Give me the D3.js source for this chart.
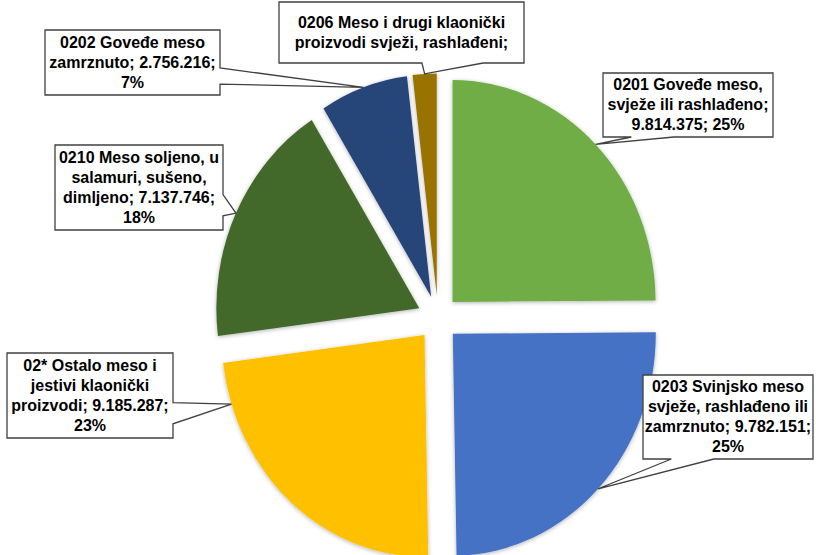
<!DOCTYPE html>
<html>
<head>
<meta charset="utf-8">
<script src="https://cdn.jsdelivr.net/npm/d3@7"></script>
<style>
  html, body { margin: 0; padding: 0; background: #fff; }
  svg { display: block; }
</style>
</head>
<body>
<div id="chart"></div>
<script>
// pie data, clockwise from 12 o'clock
const codes = ["0201", "0203", "02*", "0210", "0202", "0206"];
const names = [
  "Goveđe meso, svježe ili rashlađeno",
  "Svinjsko meso svježe, rashlađeno ili zamrznuto",
  "Ostalo meso i jestivi klaonički proizvodi",
  "Meso soljeno, u salamuri, sušeno, dimljeno",
  "Goveđe meso zamrznuto",
  "Meso i drugi klaonički proizvodi svježi, rashlađeni"
];
const values = [9814375, 9782151, 9185287, 7137746, 2756216, 750000]; // last one is hidden in the label, estimated
const colors = ["#70AD47", "#4472C4", "#FFC000", "#43682B", "#264478", "#997300"];

// callout boxes (x, y, w, h) and where along the slice arc the wedge points
const boxes = [
  [603, 73, 170, 64],
  [643, 375, 170, 84],
  [7, 353, 166, 85],
  [55, 145, 168, 85],
  [45, 30, 175, 65],
  [279, 2, 245, 61]
];
const tipAt = [0.5, 0.5, 0.87, 0.5, 0.5, 0.5];

const width = 816, height = 555;
const cx = 438, cy = 318;
const radius = 222;
const sx = 203 / 222;       // picture is a bit squeezed horizontally
const explode = 22.6;
const lineH = 20;

const locale = d3.formatLocale({decimal: ",", thousands: ".", grouping: [3], currency: ["", ""]});
const fmt = locale.format(",d");

const svg = d3.select("#chart").append("svg")
    .attr("width", width)
    .attr("height", height)
    .style("font-family", "'Liberation Sans', Arial, sans-serif");

svg.append("defs").append("filter")
    .attr("id", "shadow")
    .attr("x", "-20%").attr("y", "-20%")
    .attr("width", "140%").attr("height", "140%")
  .append("feDropShadow")
    .attr("dx", 0).attr("dy", 1)
    .attr("stdDeviation", 2.2)
    .attr("flood-color", "#000")
    .attr("flood-opacity", 0.3);

const total = d3.sum(values);
const data = codes.map((c, i) => ({code: c, name: names[i], value: values[i], color: colors[i], box: boxes[i], tip: tipAt[i]}));

const pie = d3.pie().sort(null).value(d => d.value);
const arc = d3.arc().innerRadius(0).outerRadius(radius);
const arcs = pie(data);

const g = svg.append("g")
    .attr("transform", `translate(${cx},${cy}) scale(${sx},1)`);

g.selectAll("path")
  .data(arcs)
  .join("path")
    .attr("transform", d => {
      const mid = (d.startAngle + d.endAngle) / 2;
      return `translate(${Math.sin(mid) * explode},${-Math.cos(mid) * explode})`;
    })
    .attr("d", arc)
    .attr("fill", d => d.data.color)
    .attr("filter", "url(#shadow)");

// point on the exploded arc, in screen coordinates
function arcPoint(d, t) {
  const mid = (d.startAngle + d.endAngle) / 2;
  const a = d.startAngle + (d.endAngle - d.startAngle) * t;
  return [
    cx + sx * (Math.sin(mid) * explode + Math.sin(a) * radius),
    cy + (-Math.cos(mid) * explode - Math.cos(a) * radius)
  ];
}

// rectangle callout with a wedge, like the Office "wedgeRectCallout" shape
function callout(l, t, w, h, px, py) {
  const r = l + w, b = t + h;
  const dxPos = px - (l + w / 2), dyPos = py - (t + h / 2);
  const horiz = Math.abs(dxPos) * h > Math.abs(dyPos) * w;
  const x1 = l + w * (dxPos > 0 ? 7 : 2) / 12, x2 = l + w * (dxPos > 0 ? 10 : 5) / 12;
  const y1 = t + h * (dyPos > 0 ? 7 : 2) / 12, y2 = t + h * (dyPos > 0 ? 10 : 5) / 12;
  const p = d3.path();
  p.moveTo(l, t);
  if (!horiz && dyPos < 0) { p.lineTo(x1, t); p.lineTo(px, py); p.lineTo(x2, t); }
  p.lineTo(r, t);
  if (horiz && dxPos > 0) { p.lineTo(r, y1); p.lineTo(px, py); p.lineTo(r, y2); }
  p.lineTo(r, b);
  if (!horiz && dyPos > 0) { p.lineTo(x2, b); p.lineTo(px, py); p.lineTo(x1, b); }
  p.lineTo(l, b);
  if (horiz && dxPos < 0) { p.lineTo(l, y2); p.lineTo(px, py); p.lineTo(l, y1); }
  p.closePath();
  return p.toString();
}

const labels = svg.append("g")
  .selectAll("g")
  .data(arcs)
  .join("g");

labels.append("path")
    .attr("d", d => {
      const [x, y, w, h] = d.data.box;
      const [px, py] = arcPoint(d, d.data.tip);
      return callout(x, y, w, h, px, py);
    })
    .attr("fill", "#fff")
    .attr("stroke", "#404040")
    .attr("stroke-width", 1.3);

labels.each(function(d) {
  const [x, y, w, h] = d.data.box;
  const pct = Math.round(d.data.value / total * 100) + "%";
  const words = `${d.data.code} ${d.data.name}; ${fmt(d.data.value)}; ${pct}`.split(" ");
  const text = d3.select(this).append("text")
      .attr("text-anchor", "middle")
      .attr("font-size", 16)
      .attr("font-weight", "bold")
      .attr("fill", "#000");

  // greedy wrap to the box width
  const probe = text.append("tspan");
  const lines = [];
  let cur = "";
  words.forEach(wd => {
    const test = cur ? cur + " " + wd : wd;
    probe.text(test);
    if (cur && probe.node().getComputedTextLength() > w - 3) {
      lines.push(cur);
      cur = wd;
    } else cur = test;
  });
  if (cur) lines.push(cur);
  probe.remove();

  // only what fits in the box is shown, centred vertically
  const shown = lines.slice(0, Math.floor((h - 2) / lineH));
  const top = y + (h - shown.length * lineH) / 2;
  shown.forEach((ln, i) => {
    text.append("tspan")
        .attr("x", x + w / 2)
        .attr("y", top + i * lineH + 15)
        .text(ln);
  });
});
</script>
</body>
</html>
